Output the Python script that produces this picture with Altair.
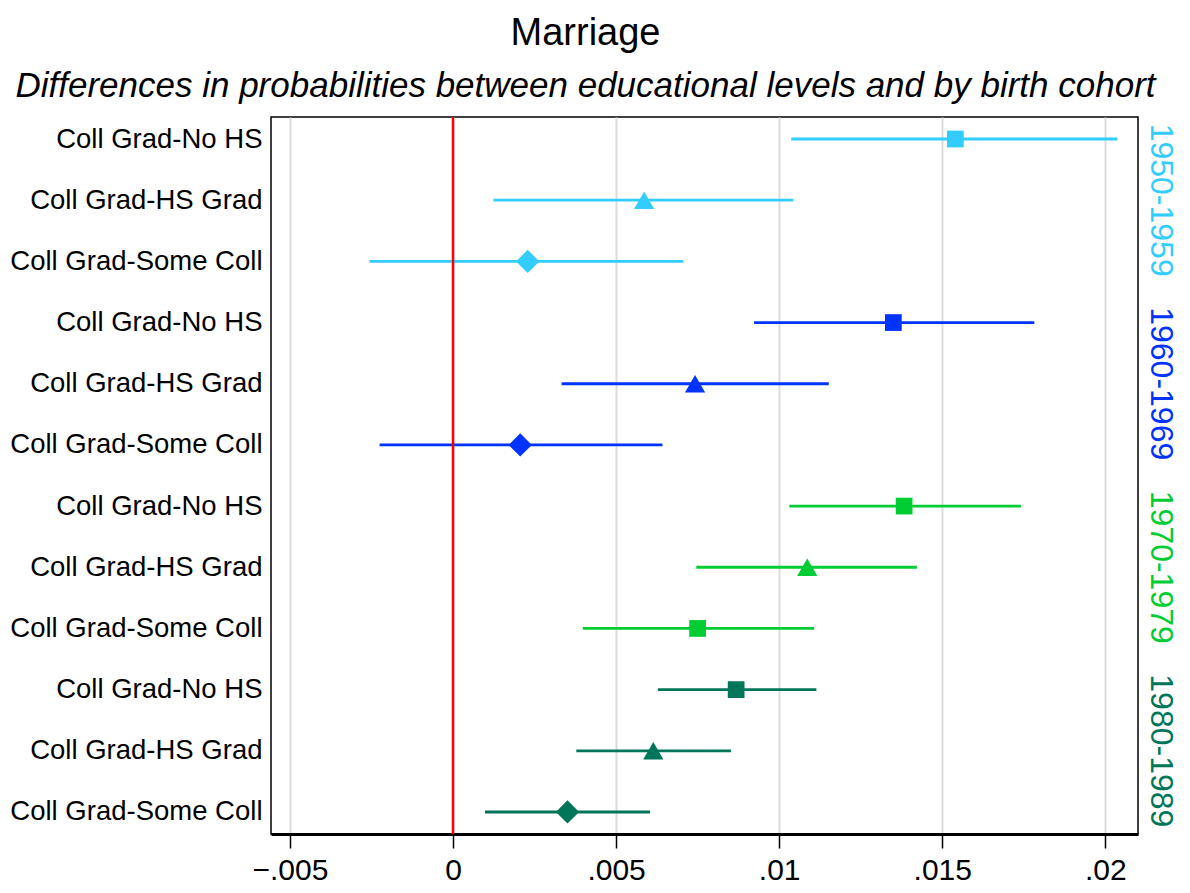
import altair as alt
import pandas as pd

# ---- data ----
cohorts = ["1950-1959", "1960-1969", "1970-1979", "1980-1989"]
cohort_colors = ["#33ccff", "#0033ff", "#00cc33", "#007658"]
contrasts = ["Coll Grad-No HS", "Coll Grad-HS Grad", "Coll Grad-Some Coll"]

row_cohort = ["1950-1959"] * 3 + ["1960-1969"] * 3 + ["1970-1979"] * 3 + ["1980-1989"] * 3
row_label = contrasts * 4
row_shape = ["square", "triangle-up", "diamond",
             "square", "triangle-up", "diamond",
             "square", "triangle-up", "square",
             "square", "triangle-up", "diamond"]
estimate = [0.01540, 0.00586, 0.00229,
            0.01350, 0.00742, 0.00206,
            0.01383, 0.01086, 0.00750,
            0.00868, 0.00614, 0.00351]
ci_low = [0.01037, 0.00124, -0.00256,
          0.00923, 0.00333, -0.00225,
          0.01031, 0.00746, 0.00398,
          0.00628, 0.00378, 0.00098]
ci_high = [0.02037, 0.01043, 0.00706,
           0.01782, 0.01152, 0.00642,
           0.01741, 0.01422, 0.01107,
           0.01114, 0.00852, 0.00604]
x_ticks = [-0.005, 0, 0.005, 0.01, 0.015, 0.02]

keys = [f"{i:02d}|{lab}" for i, lab in enumerate(row_label)]
df = pd.DataFrame({
    "key": keys, "cohort": row_cohort, "label": row_label, "shape": row_shape,
    "est": estimate, "lo": ci_low, "hi": ci_high,
})
# group label sits at the middle row of each cohort block
grp = pd.DataFrame({"cohort": cohorts, "key": [keys[1], keys[4], keys[7], keys[10]]})
zero = pd.DataFrame({"x": [0.0]})

W, H = 867, 717
FONT = "Liberation Sans"

xscale = alt.Scale(domain=[-0.00558, 0.0210], nice=False, zero=False)
yscale = alt.Scale(type="point", domain=keys, padding=0.36)
cscale = alt.Scale(domain=cohorts, range=cohort_colors)
sscale = alt.Scale(domain=["square", "triangle-up", "diamond"],
                   range=["square", "triangle-up", "diamond"])
zscale = alt.Scale(domain=["square", "triangle-up", "diamond"],
                   range=[280, 540, 470])

yenc = alt.Y("key:N", scale=yscale, sort=keys,
             axis=alt.Axis(title=None, ticks=False, domain=False, grid=False,
                           labelExpr="split(datum.value, '|')[1]",
                           labelFontSize=27.5, labelFont=FONT, labelColor="black",
                           labelPadding=9, labelLimit=400))

bars = alt.Chart(df).mark_rule(strokeWidth=2.8).encode(
    x=alt.X("lo:Q", scale=xscale,
            axis=alt.Axis(title=None, values=x_ticks, grid=True,
                          gridColor="#dcdcdc", gridWidth=2,
                          labelExpr="replace(format(datum.value, '.3~f'), '0.', '.')",
                          labelFontSize=30, labelFont=FONT, labelColor="black",
                          labelPadding=7, tickSize=14, tickColor="black",
                          tickWidth=1.5, domainColor="black", domainWidth=3)),
    x2="hi:Q",
    y=yenc,
    color=alt.Color("cohort:N", scale=cscale, legend=None),
)

zline = alt.Chart(zero).mark_rule(color="#ff0000", strokeWidth=2.5).encode(
    x=alt.X("x:Q", scale=xscale)
)

points = alt.Chart(df).mark_point(filled=True, opacity=1).encode(
    x=alt.X("est:Q", scale=xscale),
    y=alt.Y("key:N", scale=yscale, sort=keys),
    color=alt.Color("cohort:N", scale=cscale, legend=None),
    shape=alt.Shape("shape:N", scale=sscale, legend=None),
    size=alt.Size("shape:N", scale=zscale, legend=None),
)

glabels = alt.Chart(grp).mark_text(angle=90, align="center", baseline="middle",
                                   fontSize=32, font=FONT).encode(
    x=alt.value(W + 23),
    y=alt.Y("key:N", scale=yscale, sort=keys),
    text="cohort:N",
    color=alt.Color("cohort:N", scale=cscale, legend=None),
)

chart = alt.layer(bars, zline, points, glabels).properties(
    width=W, height=H,
    background="white",
    title=alt.TitleParams(
        text="Marriage",
        subtitle="Differences in probabilities between educational levels and by birth cohort",
        font=FONT, fontSize=38, fontWeight="normal", color="black",
        subtitleFont=FONT, subtitleFontSize=35, subtitleFontStyle="italic",
        subtitleColor="black", subtitlePadding=16,
        anchor="middle", frame="group", dx=-119, offset=12,
    ),
    autosize=alt.AutoSizeParams(type="none"),
    padding={"left": 263, "top": 109, "right": 44, "bottom": 51},
).configure_view(stroke="black", strokeWidth=1.5)

chart.save("out.html", embed_options={"renderer": "svg", "actions": False})
